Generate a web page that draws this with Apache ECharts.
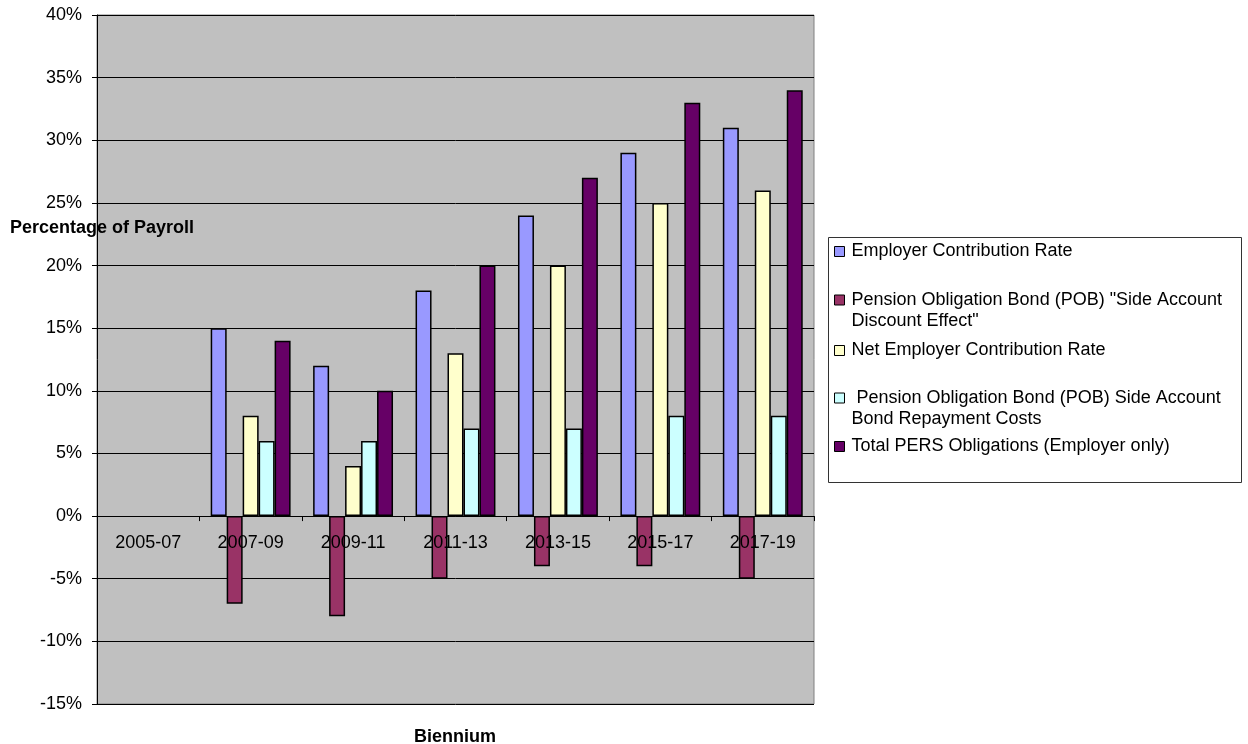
<!DOCTYPE html>
<html>
<head>
<meta charset="utf-8">
<script src="https://cdn.jsdelivr.net/npm/echarts@6/dist/echarts.min.js"></script>
<style>
html,body{margin:0;padding:0;background:#fff;}
#chart{width:1248px;height:744px;}
</style>
</head>
<body>
<div id="chart"></div>
<script>
const categories = ['2005-07','2007-09','2009-11','2011-13','2013-15','2015-17','2017-19'];
const seriesNames = [
  'Employer Contribution Rate',
  'Pension Obligation Bond (POB) "Side Account Discount Effect"',
  'Net Employer Contribution Rate',
  ' Pension Obligation Bond (POB) Side Account Bond Repayment Costs',
  'Total PERS Obligations (Employer only)'
];
const legendLabels = [
  'Employer Contribution Rate',
  ' \nPension Obligation Bond (POB) "Side Account\nDiscount Effect"',
  'Net Employer Contribution Rate',
  ' \n Pension Obligation Bond (POB) Side Account\nBond Repayment Costs',
  'Total PERS Obligations (Employer only)'
];
const employerRate   = [null, 15, 12, 18, 24, 29, 31];
const pobDiscount    = [null, -7, -8, -5, -4, -4, -5];
const netEmployer    = [null,  8,  4, 13, 20, 25, 26];
const pobRepayment   = [null,  6,  6,  7,  7,  8,  8];
const totalPers      = [null, 14, 10, 20, 27, 33, 34];
const yTicks = [-15,-10,-5,0,5,10,15,20,25,30,35,40];
const yTitle = 'Percentage of Payroll';
const xTitle = 'Biennium';

const colors = ['#9999FF','#993366','#FFFFCC','#CCFFFF','#660066'];
const seriesData = [employerRate, pobDiscount, netEmployer, pobRepayment, totalPers];
const FONT = "'Liberation Sans', Arial, sans-serif";

const chart = echarts.init(document.getElementById('chart'), null, {renderer:'canvas'});

const legendTops = [241, 268.5, 340, 366.5, 436];
const legends = seriesNames.map((n, i) => ({
  data: [n],
  orient: 'vertical',
  left: 834,
  top: legendTops[i],
  padding: 0,
  itemWidth: 10,
  itemHeight: 10,
  icon: 'rect',
  selectedMode: false,
  itemStyle: {borderColor: '#000', borderWidth: 1},
  formatter: () => legendLabels[i],
  textStyle: {
    fontFamily: FONT, fontSize: 18, lineHeight: 21, color: '#000',
    padding: [0, 0, 0, 2]
  }
}));

const option = {
  animation: false,
  backgroundColor: '#fff',
  title: [
    {text: yTitle, left: 10, top: 218, padding: 0,
     textStyle: {fontFamily: FONT, fontSize: 18, fontWeight: 'bold', color: '#000', lineHeight: 20}},
    {text: xTitle, left: 414, top: 727, padding: 0,
     textStyle: {fontFamily: FONT, fontSize: 18, fontWeight: 'bold', color: '#000', lineHeight: 20}}
  ],
  legend: legends,
  graphic: [{
    type: 'rect', left: 828, top: 237, z: -1,
    shape: {width: 413, height: 245},
    style: {fill: '#fff', stroke: '#333', lineWidth: 1}
  }],
  grid: {
    left: 97, top: 15, right: 434, bottom: 40,
    show: true, backgroundColor: '#C0C0C0', borderColor: '#808080', borderWidth: 1,
    outerBoundsMode: 'none'
  },
  xAxis: {
    type: 'category',
    data: categories,
    axisLine: {onZero: true, lineStyle: {color: '#000', width: 1}},
    axisTick: {show: true, length: 5, lineStyle: {color: '#000'}},
    axisLabel: {fontFamily: FONT, fontSize: 18, color: '#000', margin: -171, lineHeight: 20, hideOverlap: false},
    splitLine: {show: false},
    z: 10
  },
  yAxis: {
    type: 'value',
    min: yTicks[0], max: yTicks[yTicks.length-1], interval: 5,
    axisLine: {show: true, lineStyle: {color: '#000', width: 1}},
    axisTick: {show: true, length: 5, lineStyle: {color: '#000'}},
    axisLabel: {fontFamily: FONT, fontSize: 18, color: '#000', margin: 15, formatter: '{value}%'},
    splitLine: {show: true, lineStyle: {color: '#000', width: 1}}
  },
  series: seriesNames.map((n, i) => ({
    name: n,
    type: 'bar',
    data: seriesData[i],
    barGap: '0%',
    barCategoryGap: '22%',
    itemStyle: {color: colors[i], borderColor: '#000', borderWidth: 1.5},
    z: 5
  }))
};
chart.setOption(option);
</script>
</body>
</html>
